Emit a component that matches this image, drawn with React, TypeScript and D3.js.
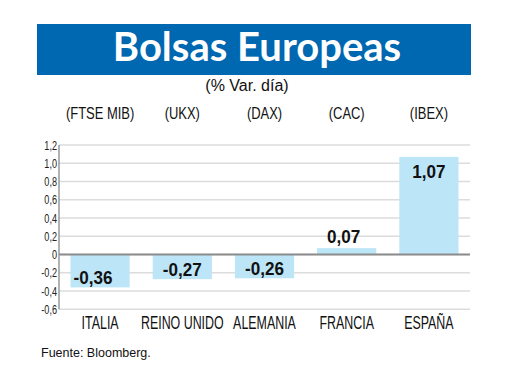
import * as d3 from "d3";

const countries = ["ITALIA", "REINO UNIDO", "ALEMANIA", "FRANCIA", "ESPAÑA"];
const tickers = ["(FTSE MIB)", "(UKX)", "(DAX)", "(CAC)", "(IBEX)"];
const values = [-0.36, -0.27, -0.26, 0.07, 1.07];
const yTicks = [-0.6, -0.4, -0.2, 0, 0.2, 0.4, 0.6, 0.8, 1.0, 1.2];

const W = 520;
const H = 390;
const plot = {left: 59, right: 470, top: 145, bottom: 309.3};
const regular = "'Liberation Sans', Arial, sans-serif";

const minus = (s: string) => s.replace("−", "-");
const fmt = (v: number) => minus(d3.format(".2f")(v).replace(".", ","));
const fmtTick = (v: number) => (v === 0 ? "0" : minus(d3.format(".1f")(v).replace(".", ",")));

export default function App() {
    const x = d3
        .scaleBand<string>()
        .domain(countries)
        .range([plot.left, plot.right])
        .paddingInner(0.28)
        .paddingOuter(0.14);

    const y = d3.scaleLinear().domain([-0.6, 1.2]).range([plot.bottom, plot.top]);
    const y0 = y(0);
    const mid = (c: string) => x(c)! + x.bandwidth() / 2;

    return (
        <svg
            width={W}
            height={H}
            viewBox={`0 0 ${W} ${H}`}
            style={{position: "absolute", left: 0, top: 0, background: "#fff"}}
        >
            {/* title band */}
            <rect x={37} y={24} width={434} height={51} fill="#0067b1" />
            <text
                x={257}
                y={61}
                textAnchor="middle"
                fill="#fff"
                fontFamily="Lato, 'Open Sans', sans-serif"
                fontWeight={700}
                fontSize={40}
            >
                Bolsas Europeas
            </text>
            <text x={247} y={91} textAnchor="middle" fontFamily={regular} fontSize={16} fill="#111">
                (% Var. día)
            </text>

            {/* index tickers */}
            {tickers.map((t, i) => (
                <text
                    key={t}
                    transform={`translate(${mid(countries[i])},119) scale(0.81,1)`}
                    textAnchor="middle"
                    fontFamily={regular}
                    fontSize={16}
                    fill="#111"
                >
                    {t}
                </text>
            ))}

            {/* gridlines */}
            {yTicks.map((t) => (
                <line
                    key={t}
                    x1={plot.left}
                    x2={plot.right}
                    y1={y(t)}
                    y2={y(t)}
                    stroke="#dcdcdc"
                    strokeWidth={1.5}
                />
            ))}

            {/* y tick labels */}
            {yTicks.map((t) => (
                <text
                    key={"l" + t}
                    transform={`translate(57,${y(t) + 4.5}) scale(0.73,1)`}
                    textAnchor="end"
                    fontFamily={regular}
                    fontSize={12.5}
                    fill="#222"
                >
                    {fmtTick(t)}
                </text>
            ))}

            {/* bars */}
            {values.map((v, i) => (
                <rect
                    key={countries[i]}
                    x={x(countries[i])}
                    width={x.bandwidth()}
                    y={Math.min(y(v), y0)}
                    height={Math.abs(y(v) - y0)}
                    fill="#bde5f8"
                />
            ))}

            {/* zero line and axis */}
            <line x1={plot.left} x2={plot.right} y1={y0} y2={y0} stroke="#8c8c8c" strokeWidth={2} />
            <line x1={plot.left} x2={plot.left} y1={plot.top} y2={plot.bottom} stroke="#999" strokeWidth={1.5} />

            {/* value labels */}
            {values.map((v, i) => {
                const cx = mid(countries[i]);
                const big = Math.abs(y(v) - y0) > 40;
                let ly: number;
                let lx = cx;
                if(v < 0) {
                    ly = y(v) - 3;
                    if(i === 0) lx = cx - 7;
                } else if(big) {
                    ly = y(v) + 21;
                } else {
                    ly = y(v) - 5;
                    lx = cx - 3;
                }
                return (
                    <text
                        key={"v" + i}
                        transform={`translate(${lx},${ly}) scale(0.95,1)`}
                        textAnchor="middle"
                        fontFamily={regular}
                        fontWeight={700}
                        fontSize={18}
                        fill="#111"
                    >
                        {fmt(v)}
                    </text>
                );
            })}

            {/* category labels */}
            {countries.map((c) => (
                <text
                    key={"c" + c}
                    transform={`translate(${mid(c)},329) scale(0.71,1)`}
                    textAnchor="middle"
                    fontFamily={regular}
                    fontSize={17.5}
                    fill="#111"
                >
                    {c}
                </text>
            ))}

            <text x={41} y={357} fontFamily={regular} fontSize={12.5} fill="#111">
                Fuente: Bloomberg.
            </text>
        </svg>
    );
}
